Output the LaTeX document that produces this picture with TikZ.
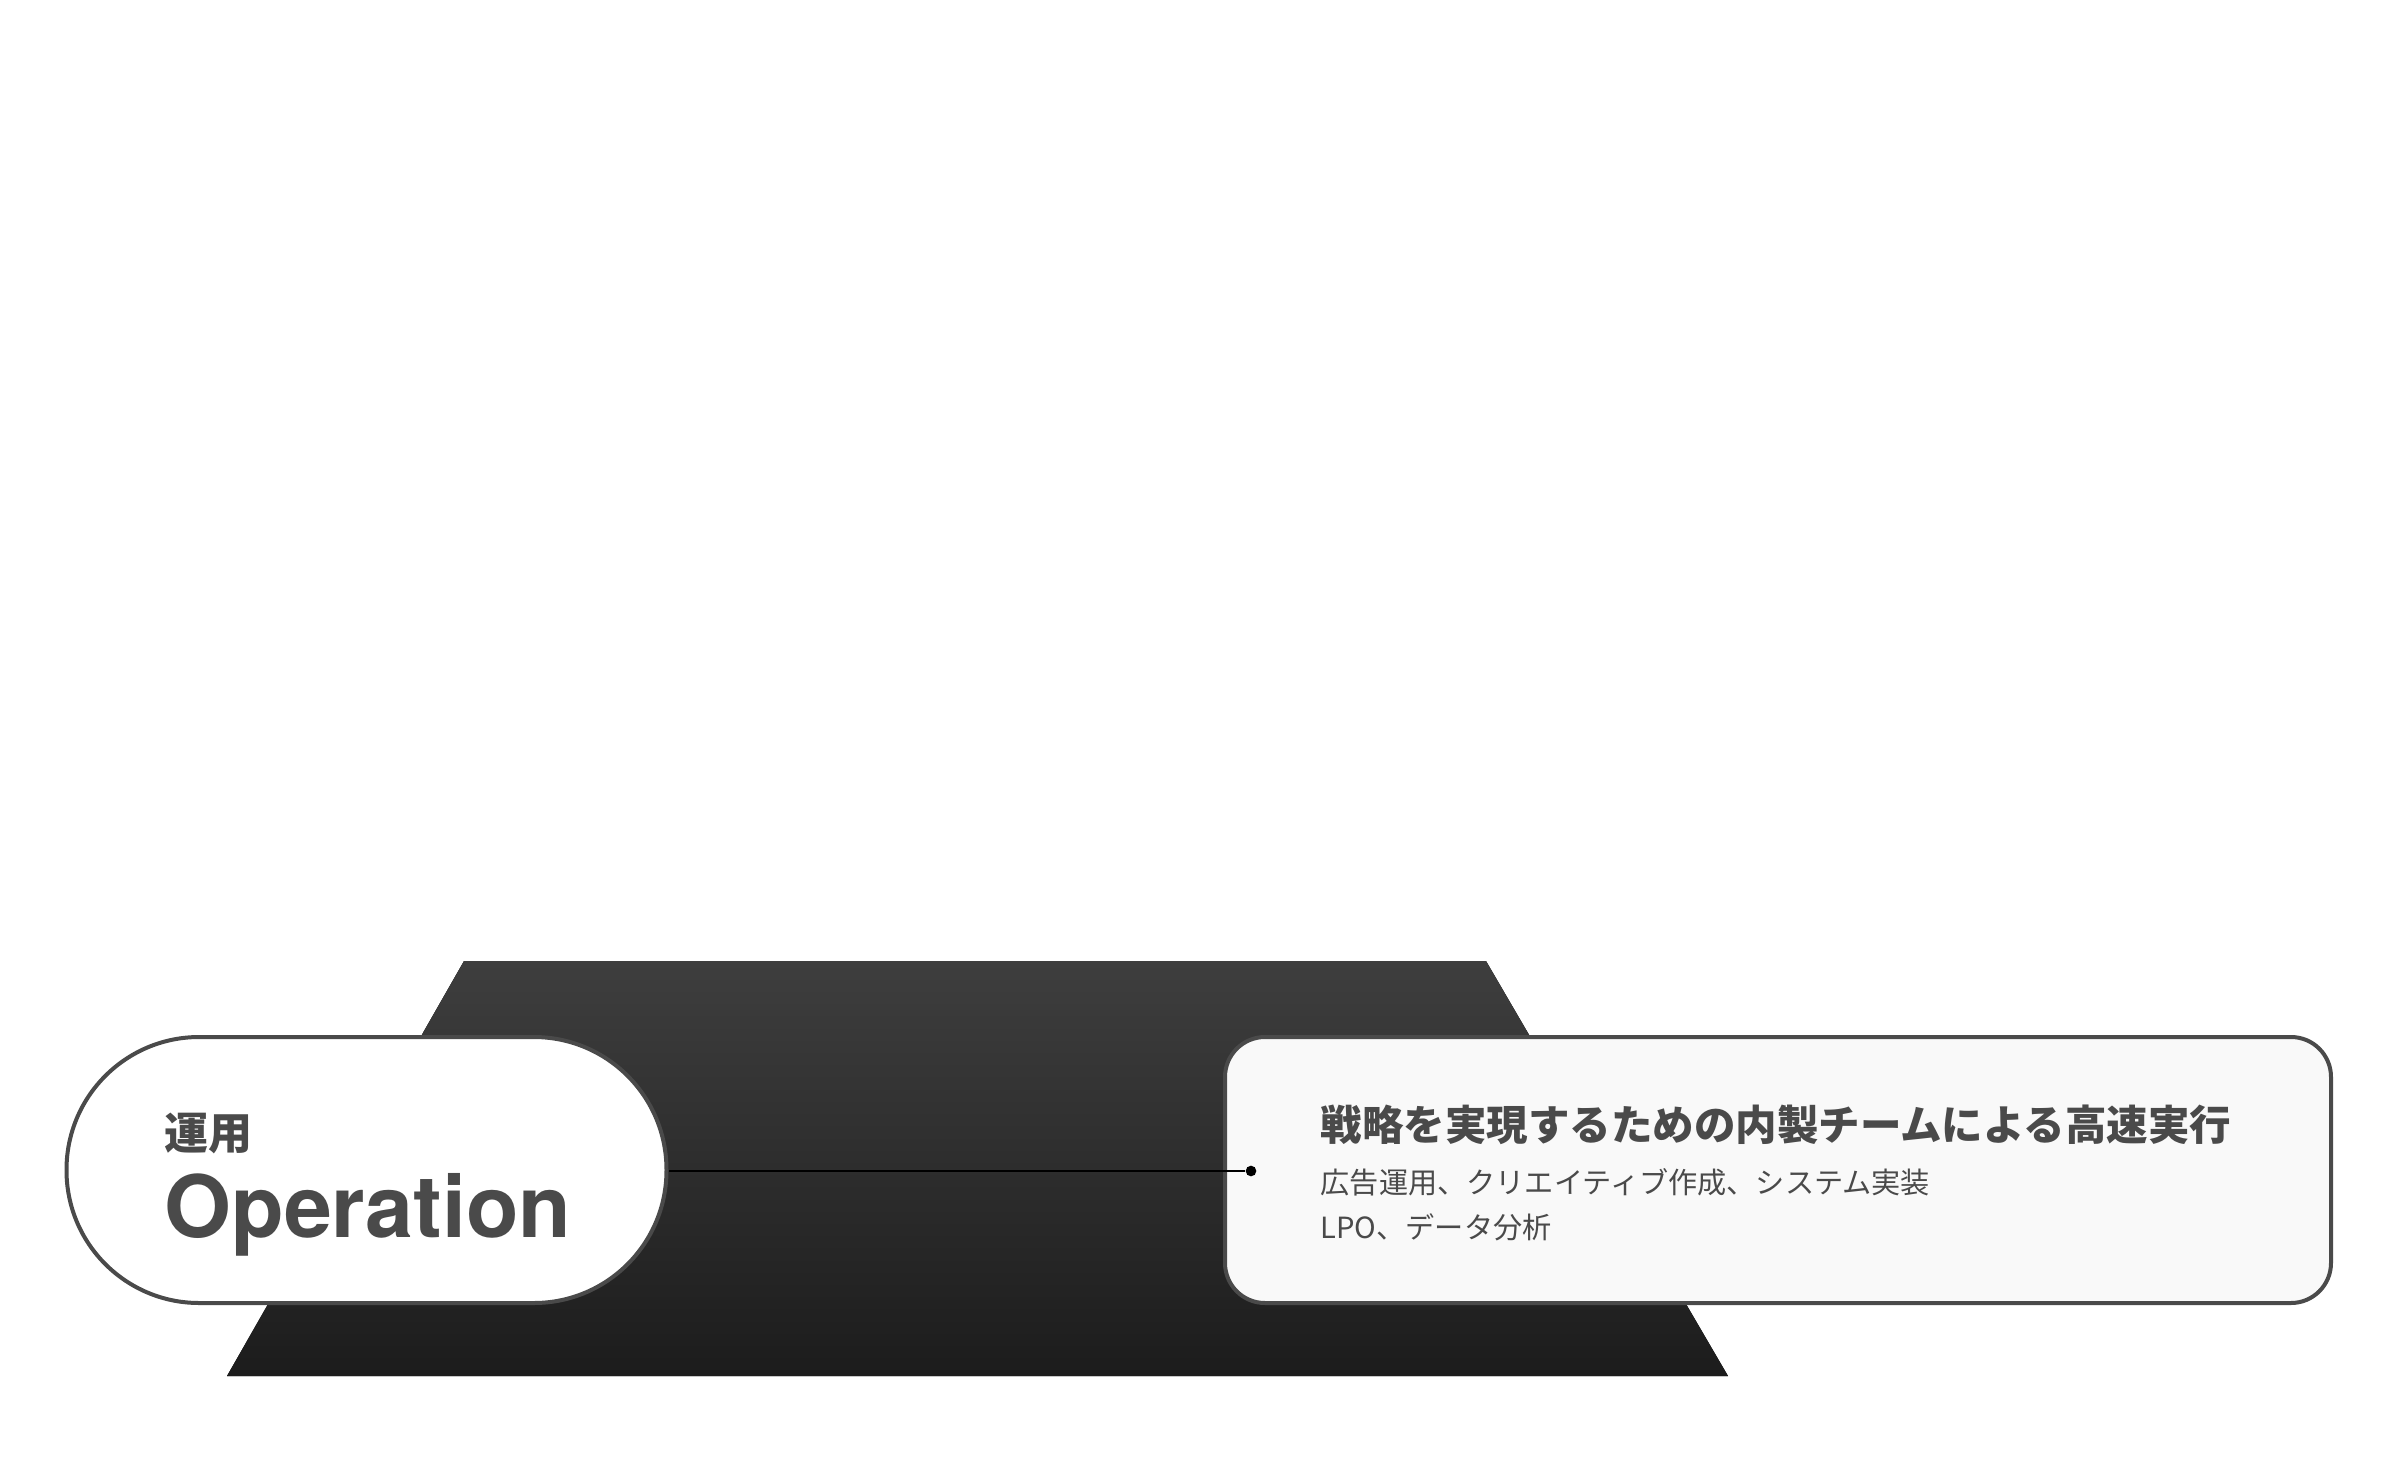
\documentclass[tikz,border=0pt]{standalone}
\usepackage{fontspec}
\setmainfont{Noto Sans CJK JP}
\newfontfamily\heros{TeX Gyre Heros}
\definecolor{ink}{HTML}{4A4A4A}
\definecolor{cardfill}{HTML}{F9F9F9}
\definecolor{slabtop}{HTML}{3E3E3E}
\definecolor{slabbot}{HTML}{1C1C1C}
\tikzset{
    pill/.style={rounded corners=39.8pt, draw=ink, line width=1.2pt, fill=white, minimum width=180pt, minimum height=79.8pt, inner sep=0},
    panel/.style={rounded corners=12pt, draw=ink, line width=1.2pt, fill=cardfill, minimum width=331.8pt, minimum height=79.8pt, inner sep=0},
    dot/.style={circle, fill=black, minimum size=3.2pt, inner sep=0},
    tagjp/.style={anchor=base west, inner sep=0, text=ink, font=\fontsize{13.2}{15}\selectfont\bfseries},
    bigname/.style={anchor=base west, inner sep=0, text=ink, font=\heros\fontsize{25.8}{30}\selectfont\bfseries},
    headline/.style={anchor=base west, inner sep=0, text=ink, font=\fontsize{12.45}{15}\selectfont\bfseries},
    detail/.style={anchor=base west, inner sep=0, text=ink, font=\fontsize{8.75}{12}\selectfont}
}

\begin{document}
\begin{tikzpicture}[x=0.3pt, y=-0.3pt]
    \useasboundingbox (0,0) rectangle (2400,1468);
    \fill[top color=slabtop, bottom color=slabbot] (464,961) -- (1486,961) -- (1728,1376) -- (227,1376) -- cycle;
    \node[pill] (op) at (366.5,1170) {};
    \node[tagjp] (opjp) at (164,1149) {運用};
    \node[bigname] (open) at (164,1237) {Operation};
    \node[panel] (card) at (1778,1170) {};
    \node[headline] (head) at (1320,1140) {戦略を実現するための内製チームによる高速実行};
    \node[detail] (line1) at (1320,1193.5) {広告運用、クリエイティブ作成、システム実装};
    \node[detail] (line2) at (1320,1238) {LPO、データ分析};
    \node[dot] (pin) at (1251,1171) {};
    \draw[line width=0.6pt] (op.east |- pin) -- (pin);
\end{tikzpicture}
\end{document}
